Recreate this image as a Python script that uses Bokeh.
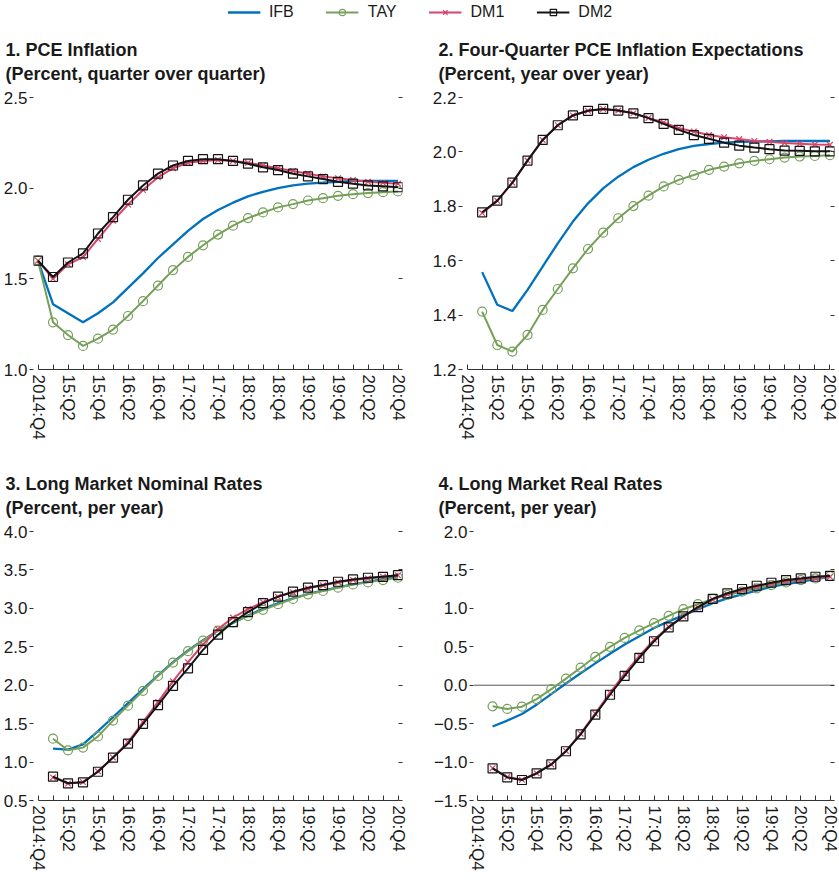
import numpy as np
from bokeh.plotting import figure
from bokeh.layouts import column, row
from bokeh.models import (Range1d, LinearAxis, FixedTicker, Title, Span, Legend, LegendItem,
                          CustomJSTickFormatter, ColumnDataSource)
from bokeh.embed import file_html
from bokeh.resources import INLINE

# ---------------- data ----------------
quarters = ["2014:Q4", "15:Q1", "15:Q2", "15:Q3", "15:Q4", "16:Q1", "16:Q2", "16:Q3", "16:Q4",
            "17:Q1", "17:Q2", "17:Q3", "17:Q4", "18:Q1", "18:Q2", "18:Q3", "18:Q4",
            "19:Q1", "19:Q2", "19:Q3", "19:Q4", "20:Q1", "20:Q2", "20:Q3", "20:Q4"]

# Panel 1: PCE inflation (2014:Q4 - 20:Q4)
p1_ifb = [1.60, 1.36, 1.31, 1.26, 1.31, 1.37, 1.45, 1.53, 1.615, 1.69, 1.765, 1.83, 1.88, 1.92,
          1.955, 1.98, 2.00, 2.015, 2.025, 2.03, 2.035, 2.04, 2.04, 2.04, 2.04]
p1_tay = [1.60, 1.26, 1.19, 1.13, 1.17, 1.22, 1.295, 1.377, 1.463, 1.548, 1.621, 1.685, 1.744,
          1.793, 1.835, 1.866, 1.894, 1.912, 1.932, 1.945, 1.958, 1.967, 1.973, 1.978, 1.982]
p1_dm1 = [1.60, 1.50, 1.58, 1.62, 1.72, 1.82, 1.91, 1.99, 2.06, 2.11, 2.14, 2.15, 2.155, 2.15,
          2.14, 2.125, 2.11, 2.095, 2.08, 2.065, 2.055, 2.045, 2.035, 2.03, 2.025]
p1_dm2 = [1.60, 1.51, 1.59, 1.64, 1.75, 1.84, 1.936, 2.015, 2.08, 2.125, 2.15, 2.16, 2.16, 2.15,
          2.135, 2.115, 2.10, 2.08, 2.065, 2.05, 2.035, 2.025, 2.015, 2.01, 2.005]

# Panel 2: four-quarter PCE inflation expectations (15:Q1 - 20:Q4)
p2_ifb = [1.558, 1.438, 1.415, 1.493, 1.578, 1.664, 1.744, 1.811, 1.866, 1.909, 1.944, 1.971,
          1.993, 2.01, 2.022, 2.029, 2.034, 2.037, 2.038, 2.039, 2.04, 2.04, 2.04, 2.04]
p2_tay = [1.413, 1.29, 1.266, 1.327, 1.419, 1.496, 1.572, 1.643, 1.703, 1.756, 1.801, 1.839,
          1.873, 1.897, 1.915, 1.934, 1.946, 1.958, 1.967, 1.973, 1.979, 1.983, 1.985, 1.988]
p2_dm1 = [1.775, 1.82, 1.887, 1.968, 2.044, 2.098, 2.134, 2.151, 2.158, 2.152, 2.142, 2.125,
          2.108, 2.087, 2.075, 2.062, 2.054, 2.047, 2.04, 2.037, 2.033, 2.03, 2.027, 2.026]
p2_dm2 = [1.778, 1.821, 1.887, 1.968, 2.044, 2.098, 2.134, 2.151, 2.158, 2.152, 2.142, 2.124,
          2.103, 2.081, 2.062, 2.048, 2.034, 2.023, 2.016, 2.01, 2.005, 2.004, 2.002, 2.002]

# Panel 3: long market nominal rates (15:Q1 - 20:Q4)
p3_ifb = [1.175, 1.162, 1.231, 1.403, 1.583, 1.768, 1.949, 2.129, 2.301, 2.452, 2.585, 2.71,
          2.809, 2.908, 2.994, 3.067, 3.131, 3.187, 3.23, 3.273, 3.312, 3.346, 3.38, 3.41]
p3_tay = [1.304, 1.153, 1.188, 1.334, 1.54, 1.734, 1.927, 2.121, 2.293, 2.443, 2.581, 2.71,
          2.817, 2.899, 2.981, 3.054, 3.123, 3.183, 3.226, 3.269, 3.312, 3.338, 3.368, 3.398]
p3_dm1 = [0.80, 0.72, 0.74, 0.88, 1.06, 1.26, 1.52, 1.78, 2.05, 2.30, 2.53, 2.73, 2.88, 2.99,
          3.08, 3.15, 3.21, 3.26, 3.30, 3.34, 3.37, 3.39, 3.41, 3.43]
p3_dm2 = [0.81, 0.724, 0.736, 0.874, 1.059, 1.24, 1.497, 1.742, 1.992, 2.22, 2.46, 2.658, 2.822,
          2.95, 3.067, 3.153, 3.217, 3.269, 3.303, 3.346, 3.376, 3.398, 3.41, 3.432]

# Panel 4: long market real rates (15:Q1 - 20:Q4)
p4_ifb = [-0.537, -0.46, -0.374, -0.253, -0.116, 0.022, 0.155, 0.284, 0.409, 0.529, 0.637, 0.744,
          0.83, 0.908, 0.989, 1.067, 1.131, 1.183, 1.23, 1.282, 1.316, 1.346, 1.38, 1.41]
p4_tay = [-0.275, -0.309, -0.279, -0.18, -0.051, 0.086, 0.228, 0.37, 0.499, 0.615, 0.714, 0.809,
          0.903, 0.989, 1.054, 1.123, 1.174, 1.217, 1.26, 1.303, 1.338, 1.368, 1.389, 1.419]
p4_dm1 = [-1.08, -1.195, -1.23, -1.145, -1.03, -0.855, -0.63, -0.37, -0.10, 0.15, 0.38, 0.59,
          0.76, 0.895, 1.01, 1.115, 1.185, 1.24, 1.285, 1.325, 1.355, 1.375, 1.395, 1.41]
p4_dm2 = [-1.083, -1.199, -1.233, -1.147, -1.031, -0.859, -0.64, -0.382, -0.124, 0.121, 0.357,
          0.572, 0.753, 0.895, 1.015, 1.123, 1.196, 1.252, 1.294, 1.333, 1.368, 1.389, 1.411, 1.423]

p1_yticks = [1.0, 1.5, 2.0, 2.5]
p2_yticks = [1.2, 1.4, 1.6, 1.8, 2.0, 2.2]
p3_yticks = [0.5, 1.0, 1.5, 2.0, 2.5, 3.0, 3.5, 4.0]
p4_yticks = [-1.5, -1.0, -0.5, 0.0, 0.5, 1.0, 1.5, 2.0]

titles = [("1. PCE Inflation", "(Percent, quarter over quarter)"),
          ("2. Four-Quarter PCE Inflation Expectations", "(Percent, year over year)"),
          ("3. Long Market Nominal Rates", "(Percent, per year)"),
          ("4. Long Market Real Rates", "(Percent, per year)")]

series_names = ["IFB", "TAY", "DM1", "DM2"]

# ---------------- styling ----------------
FONT = "Liberation Sans"
BLUE = "#0072bd"
GREEN = "#76a05a"
RED = "#d8456a"
BLACK = "#141414"
TEXT = "#1a1a1a"

x_all = list(range(len(quarters)))

xfmt_code = "const i = Math.round(tick); return (i % 2 == 0) ? labels[i] : '';"
yfmt_code = "return tick < 0 ? '\\u2212' + (-tick).toFixed(1) : tick.toFixed(1);"


def make_panel(width, height, ml, mr, mt, mb, yr, yticks, title_pair, title_offset, series, xs):
    p = figure(width=width, height=height, toolbar_location=None, output_backend="svg",
               x_range=Range1d(-0.3, len(quarters) - 1 + 0.3), y_range=Range1d(*yr),
               title=None, min_border_left=ml, min_border_right=mr,
               min_border_top=mt, min_border_bottom=mb, y_axis_location="left")
    p.outline_line_color = None
    p.grid.visible = False
    p.background_fill_color = "white"

    # x axis
    xa = p.xaxis[0]
    xa.ticker = FixedTicker(ticks=x_all)
    xa.formatter = CustomJSTickFormatter(args=dict(labels=quarters), code=xfmt_code)
    xa.bounds = (0, len(quarters) - 1)
    xa.major_label_orientation = "vertical"
    xa.major_tick_in = 5
    xa.major_tick_out = 0
    xa.minor_tick_line_color = None
    xa.axis_line_color = "#333333"
    xa.major_tick_line_color = "#333333"
    xa.major_label_text_font = FONT
    xa.major_label_text_font_size = "17px"
    xa.major_label_text_color = TEXT
    xa.major_label_standoff = 5

    # left y axis
    ya = p.yaxis[0]
    ya.ticker = FixedTicker(ticks=yticks)
    ya.formatter = CustomJSTickFormatter(code=yfmt_code)
    ya.axis_line_color = None
    ya.major_tick_in = 0
    ya.major_tick_out = 4
    ya.minor_tick_line_color = None
    ya.major_tick_line_color = "#333333"
    ya.major_label_text_font = FONT
    ya.major_label_text_font_size = "17px"
    ya.major_label_text_color = TEXT
    ya.major_label_standoff = 2

    # right y axis: ticks only
    ra = LinearAxis(ticker=FixedTicker(ticks=yticks),
                    formatter=CustomJSTickFormatter(code="return '';"))
    ra.axis_line_color = None
    ra.major_tick_in = 4
    ra.major_tick_out = 0
    ra.minor_tick_line_color = None
    ra.major_tick_line_color = "#333333"
    ra.major_label_standoff = 0
    p.add_layout(ra, "right")

    # two-line title
    p.add_layout(Title(text=title_pair[0] + "\n" + title_pair[1], align="left",
                       offset=title_offset, text_font=FONT, text_font_size="18px",
                       text_font_style="bold", text_color=TEXT, text_line_height=1.22,
                       standoff=26), "above")

    ifb, tay, dm1, dm2 = series
    p.line(xs, ifb, line_color=BLUE, line_width=2.3)
    p.line(xs, tay, line_color=GREEN, line_width=2)
    p.scatter(xs, tay, marker="circle", size=9, line_color=GREEN, fill_color=None, line_width=1.2)
    p.line(xs, dm1, line_color=RED, line_width=2)
    p.scatter(xs, dm1, marker="x", size=8, line_color=RED, line_width=1.2)
    p.line(xs, dm2, line_color=BLACK, line_width=2)
    p.scatter(xs, dm2, marker="square", size=9, line_color=BLACK, fill_color=None, line_width=1.2)
    return p


TOP_H, BOT_H = 434, 421
p1 = make_panel(420, TOP_H, 30, 18, 73, 89, (1.0, 2.5), p1_yticks, titles[0], -28,
                (p1_ifb, p1_tay, p1_dm1, p1_dm2), x_all)
p2 = make_panel(419, TOP_H, 42, 5, 73, 89, (1.2, 2.2), p2_yticks, titles[1], -24,
                (p2_ifb, p2_tay, p2_dm1, p2_dm2), x_all[1:])
p3 = make_panel(420, BOT_H, 30, 18, 73, 79, (0.5, 4.0), p3_yticks, titles[2], -28,
                (p3_ifb, p3_tay, p3_dm1, p3_dm2), x_all[1:])
p4 = make_panel(419, BOT_H, 53, 5, 73, 79, (-1.5, 2.0), p4_yticks, titles[3], -35,
                (p4_ifb, p4_tay, p4_dm1, p4_dm2), x_all[1:])
p4.add_layout(Span(location=0, dimension="width", line_color="#555555", line_width=1,
                   level="underlay"))

# ---------------- legend strip ----------------
leg = figure(width=839, height=24, toolbar_location=None, output_backend="svg",
             x_range=Range1d(0, 1), y_range=Range1d(0, 1), x_axis_type=None, y_axis_type=None,
             min_border=0, title=None)
leg.outline_line_color = None
leg.grid.visible = False
blank = ColumnDataSource(dict(x=[np.nan], y=[np.nan]))
r_ifb = leg.line("x", "y", source=blank, line_color=BLUE, line_width=2.3)
r_tay_l = leg.line("x", "y", source=blank, line_color=GREEN, line_width=2)
r_tay_m = leg.scatter("x", "y", source=blank, marker="circle", size=9, line_color=GREEN,
                      fill_color=None, line_width=1.2)
r_dm1_l = leg.line("x", "y", source=blank, line_color=RED, line_width=2)
r_dm1_m = leg.scatter("x", "y", source=blank, marker="x", size=8, line_color=RED, line_width=1.2)
r_dm2_l = leg.line("x", "y", source=blank, line_color=BLACK, line_width=2)
r_dm2_m = leg.scatter("x", "y", source=blank, marker="square", size=9, line_color=BLACK,
                      fill_color=None, line_width=1.2)
legend = Legend(items=[LegendItem(label=series_names[0], renderers=[r_ifb]),
                       LegendItem(label=series_names[1], renderers=[r_tay_l, r_tay_m]),
                       LegendItem(label=series_names[2], renderers=[r_dm1_l, r_dm1_m]),
                       LegendItem(label=series_names[3], renderers=[r_dm2_l, r_dm2_m])],
                orientation="horizontal", location="center", border_line_color=None,
                background_fill_alpha=0, glyph_width=33, glyph_height=16, label_standoff=9,
                spacing=32, padding=0, margin=0, label_text_font=FONT,
                label_text_font_size="16px", label_text_color=TEXT)
leg.add_layout(legend, "center")

layout = column(leg, row(p1, p2), row(p3, p4), spacing=0)

open("out.html", "w").write(file_html(layout, INLINE))
